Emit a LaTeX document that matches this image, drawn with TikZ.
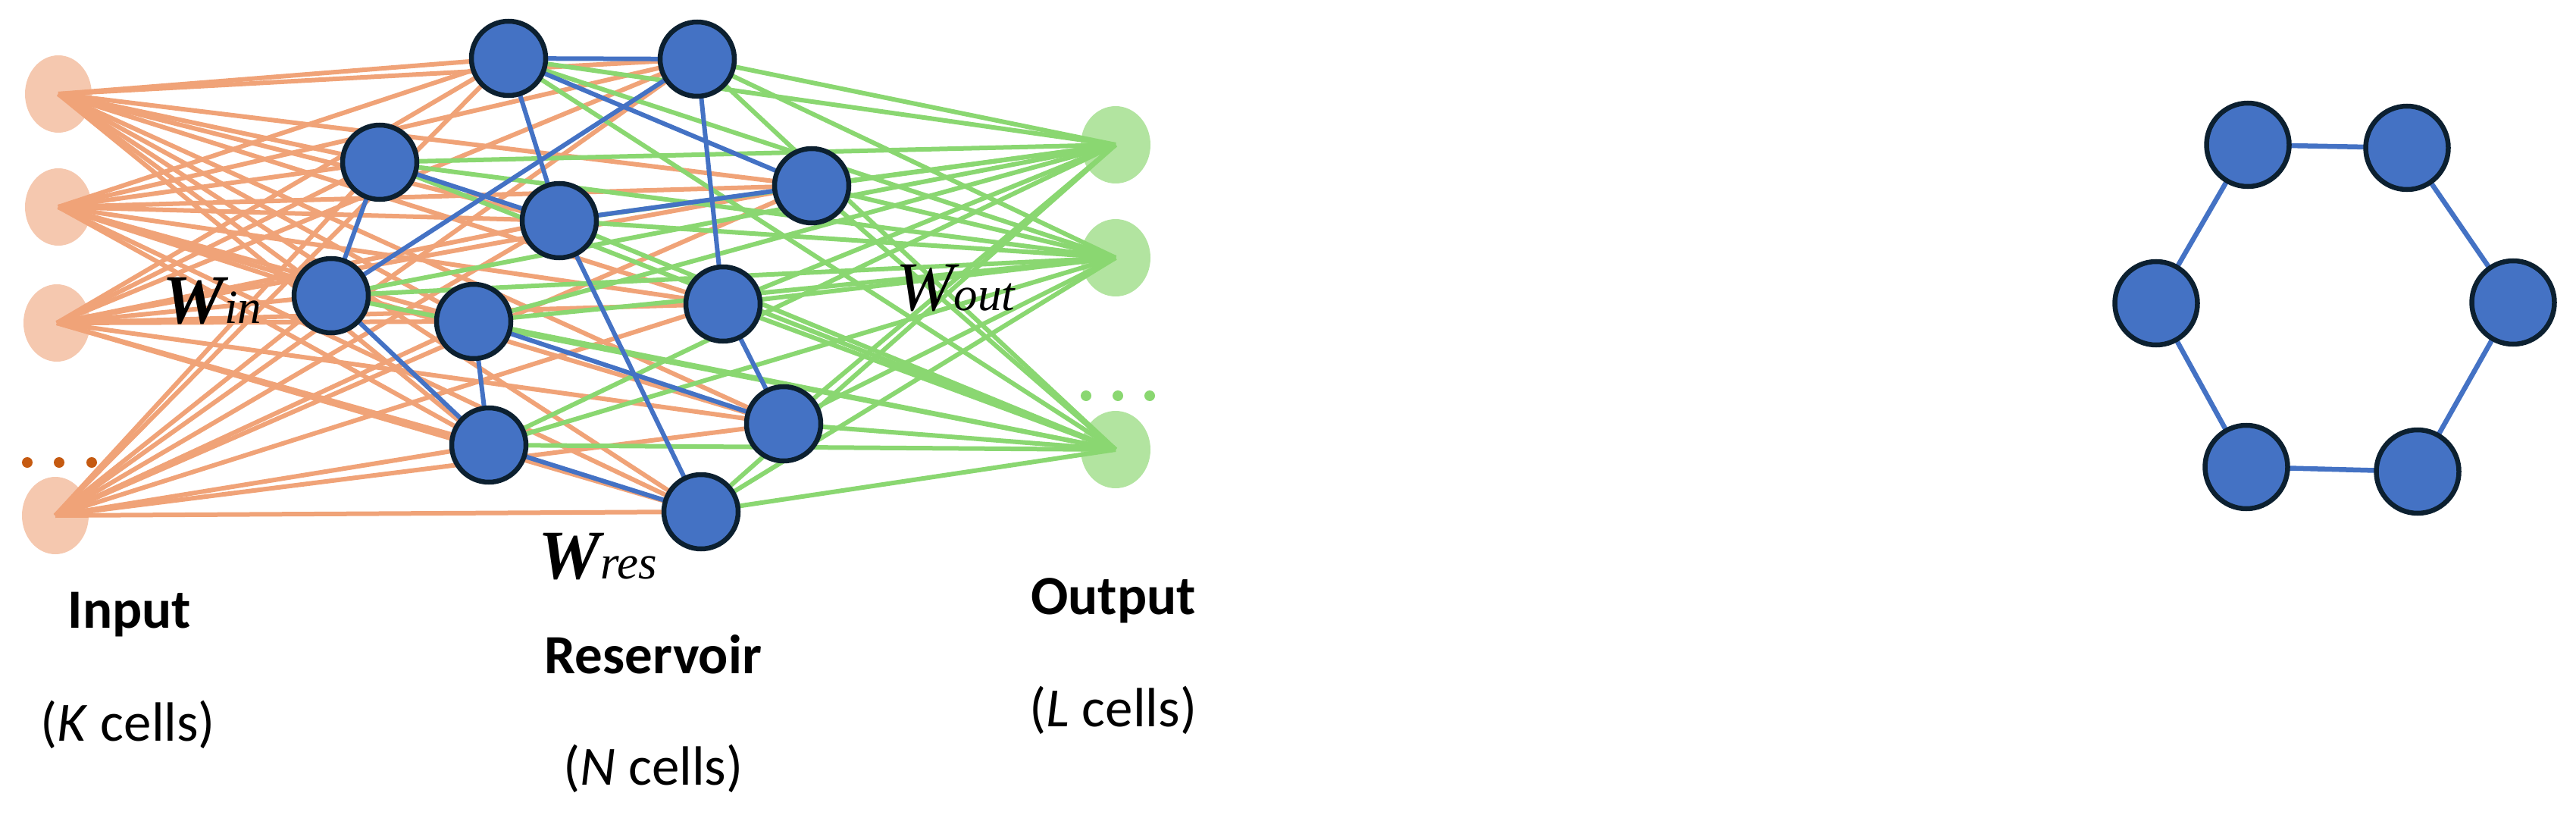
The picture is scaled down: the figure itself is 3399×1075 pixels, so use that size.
\documentclass[tikz,border=0pt]{standalone}
\usepackage{fontspec}
\newfontfamily\carlito{Carlito}
\newfontfamily\libserif{Liberation Serif}
\usetikzlibrary{shapes.geometric}
\pgfdeclarelayer{back}
\pgfdeclarelayer{edges}
\pgfsetlayers{back,edges,main}
\definecolor{infill}{HTML}{F5C8AF}
\definecolor{inline}{HTML}{F0A378}
\definecolor{indot}{HTML}{C55A11}
\definecolor{outfill}{HTML}{B2E4A0}
\definecolor{outline}{HTML}{8AD771}
\definecolor{resblue}{HTML}{4472C4}
\definecolor{resrim}{HTML}{0C2030}
\begin{document}
\begin{tikzpicture}[x=1pt,y=-1pt,
  inputcell/.style={ellipse, fill=infill, minimum width=88pt, minimum height=102pt, inner sep=0pt},
  outputcell/.style={ellipse, fill=outfill, minimum width=92pt, minimum height=102pt, inner sep=0pt},
  rescell/.style={ellipse, fill=resblue, draw=resrim, line width=6.5pt, minimum width=98pt, minimum height=98pt, inner sep=0pt},
  hexcell/.style={ellipse, fill=resblue, draw=resrim, line width=6.5pt, minimum width=109pt, minimum height=110pt, inner sep=0pt},
  inedge/.style={draw=inline, line width=6pt},
  outedge/.style={draw=outline, line width=6pt},
  resedge/.style={draw=resblue, line width=6pt},
  hexedge/.style={draw=resblue, line width=6.5pt},
  boldlabel/.style={anchor=base, inner sep=0pt, font=\carlito\bfseries\fontsize{73}{80}\selectfont},
  countlabel/.style={anchor=base, inner sep=0pt, font=\carlito\fontsize{73}{80}\selectfont},
  wlabel/.style={anchor=base west, inner sep=0pt, font=\libserif\fontsize{92}{92}\selectfont}
]
\useasboundingbox (0,0) rectangle (3399,1075);

% input and output cells (below the connectors)
\begin{pgfonlayer}{back}
\node[inputcell] (I1) at (77,124) {};
\node[inputcell] (I2) at (77,273) {};
\node[inputcell] (I3) at (75,426) {};
\node[inputcell] (I4) at (73,680) {};
\node[outputcell] (O1) at (1472,191) {};
\node[outputcell] (O2) at (1472,340) {};
\node[outputcell] (O3) at (1472,593) {};
\end{pgfonlayer}

% reservoir cells
\node[rescell] (R1) at (671,77) {};
\node[rescell] (R2) at (501,214) {};
\node[rescell] (R3) at (437,390) {};
\node[rescell] (R4) at (738,291) {};
\node[rescell] (R5) at (625,424) {};
\node[rescell] (R6) at (645,587) {};
\node[rescell] (R7) at (920,78) {};
\node[rescell] (R8) at (1071,245) {};
\node[rescell] (R9) at (954,401) {};
\node[rescell] (R10) at (1034,559) {};
\node[rescell] (R11) at (925,675) {};

% connectors
\begin{pgfonlayer}{edges}
\foreach \i in {1,...,4}
  \foreach \r in {1,...,11}
    \draw[inedge] (I\i.center) -- (R\r.center);
\foreach \r in {1,...,11}
  \foreach \o in {1,2,3}
    \draw[outedge] (R\r.center) -- (O\o.center);
\foreach \a/\b in {1/7,1/4,1/8,2/3,2/4,3/7,3/6,4/8,4/11,5/6,5/10,6/11,7/9,9/10}
  \draw[resedge] (R\a.center) -- (R\b.center);
\end{pgfonlayer}

% ellipsis dots
\foreach \x in {36,78,121} \fill[indot] (\x,610) circle (7);
\foreach \x in {1433,1475,1517} \fill[outline] (\x,522) circle (7);

% weight labels
\node[wlabel] (win) at (214,426) {{\bfseries\itshape W}{\itshape\fontsize{63}{63}\selectfont in}};
\node[wlabel] (wout) at (1182,409) {{\itshape W}{\itshape\fontsize{63}{63}\selectfont out}};
\node[wlabel] (wres) at (710,763) {{\bfseries\itshape W}{\itshape\fontsize{63}{63}\selectfont res}};

% layer labels
\node[boldlabel] (inlab) at (171,828) {Input};
\node[countlabel] (incount) at (169,977) {(\textit{K} cells)};
\node[boldlabel] (reslab) at (862,888) {Reservoir};
\node[countlabel] (rescount) at (862,1035) {(\textit{N} cells)};
\node[boldlabel] (outlab) at (1469,810) {Output};
\node[countlabel] (outcount) at (1469,958) {(\textit{L} cells)};

% ring reservoir
\node[hexcell] (H1) at (2966,191) {};
\node[hexcell] (H2) at (3176,195) {};
\node[hexcell] (H3) at (2845,400) {};
\node[hexcell] (H4) at (3316,399) {};
\node[hexcell] (H5) at (2964,616) {};
\node[hexcell] (H6) at (3190,622) {};
\begin{pgfonlayer}{edges}
\foreach \a/\b in {1/2,2/4,4/6,6/5,5/3,3/1}
  \draw[hexedge] (H\a.center) -- (H\b.center);
\end{pgfonlayer}
\end{tikzpicture}
\end{document}
